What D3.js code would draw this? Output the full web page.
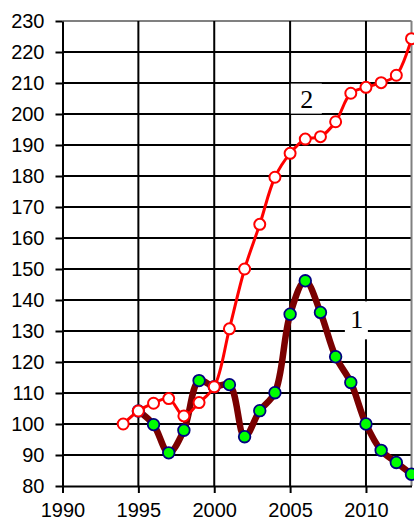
<!DOCTYPE html>
<html>
<head>
<meta charset="utf-8">
<script src="https://cdn.jsdelivr.net/npm/d3@7"></script>
<style>
  html, body { margin: 0; padding: 0; background: #fff; }
  svg { display: block; }
  .tick text { font-family: "Liberation Sans", Arial, sans-serif; font-size: 20px; fill: #000; }
</style>
</head>
<body>
<svg id="chart" width="414" height="520"></svg>
<script>
// Years and index values for the two series
const years1 = [1995, 1996, 1997, 1998, 1999, 2000, 2001, 2002, 2003, 2004, 2005, 2006, 2007, 2008, 2009, 2010, 2011, 2012, 2013];
const series1 = [104.2, 99.8, 90.7, 98, 114, 112, 112.7, 95.9, 104.3, 110.1, 135.4, 146.2, 136, 121.7, 113.4, 100, 91.5, 87.6, 83.8];

const years2 = [1994, 1995, 1996, 1997, 1998, 1999, 2000, 2001, 2002, 2003, 2004, 2005, 2006, 2007, 2008, 2009, 2010, 2011, 2012, 2013];
const series2 = [100, 104.2, 106.7, 108.2, 102.6, 106.9, 112, 130.7, 150, 164.4, 179.6, 187.3, 191.9, 192.7, 197.5, 206.7, 208.6, 210.1, 212.5, 224.3];

const yTicks = d3.range(80, 231, 10);
const xTicks = [1990, 1995, 2000, 2005, 2010];

// Series labels placed in data coordinates
const labels = [
  { text: "2", year: 2006.1, value: 204.8 },
  { text: "1", year: 2009.4, value: 133.6 }
];

const svg = d3.select("#chart");
const plotLeft = 62.5, plotRight = 411.5, plotTop = 21, plotBottom = 486;

const x = d3.scaleLinear().domain([1990, 2013]).range([plotLeft, plotRight]);
const y = d3.scaleLinear().domain([80, 230]).range([plotBottom, plotTop]);

// Grid
const grid = svg.append("g");
grid.selectAll("line.h").data(yTicks.filter(v => v > 80)).join("line")
  .attr("x1", plotLeft).attr("x2", plotRight)
  .attr("y1", d => y(d)).attr("y2", d => y(d))
  .attr("stroke", d => d === 230 ? "#808080" : "#000")
  .attr("stroke-width", 2);
grid.selectAll("line.v").data(xTicks.filter(v => v > 1990).concat([2013])).join("line")
  .attr("y1", plotTop).attr("y2", plotBottom)
  .attr("x1", d => x(d)).attr("x2", d => x(d))
  .attr("stroke", d => d === 2013 ? "#808080" : "#000")
  .attr("stroke-width", 2);

// Label backgrounds
const lab = svg.append("g");
labels.forEach(l => {
  const cx = x(l.year), cy = y(l.value);
  lab.append("rect")
    .attr("x", cx - (l.text === "2" ? 16 : 12))
    .attr("y", cy - (l.text === "2" ? 15.5 : 18.5))
    .attr("width", l.text === "2" ? 31 : 23)
    .attr("height", l.text === "2" ? 30 : 38)
    .attr("fill", "#fff");
  lab.append("text")
    .attr("x", cx).attr("y", cy)
    .attr("text-anchor", "middle")
    .attr("dominant-baseline", "central")
    .attr("font-family", "'Liberation Serif', 'Times New Roman', serif")
    .attr("font-size", 26)
    .text(l.text);
});

// Axes
const yAxis = svg.append("g")
  .attr("transform", `translate(${plotLeft},0)`)
  .call(d3.axisLeft(y).tickValues(yTicks).tickSize(7).tickPadding(11).tickSizeOuter(0));
const xAxis = svg.append("g")
  .attr("transform", `translate(0,${plotBottom})`)
  .call(d3.axisBottom(x).tickValues(xTicks).tickFormat(d3.format("d")).tickSize(7).tickPadding(10).tickSizeOuter(0));
[yAxis, xAxis].forEach(a => {
  a.select(".domain").attr("stroke", "#000").attr("stroke-width", 2);
  a.selectAll(".tick line").attr("stroke", "#000").attr("stroke-width", 2);
});

const curve = d3.curveCatmullRom.alpha(0.5);

// Series 1: thick maroon smoothed line with green markers
const d1 = years1.map((yr, i) => [yr, series1[i]]);
svg.append("path")
  .datum(d1)
  .attr("fill", "none")
  .attr("stroke", "#7a0000")
  .attr("stroke-width", 6.5)
  .attr("stroke-linejoin", "round")
  .attr("d", d3.line().x(d => x(d[0])).y(d => y(d[1])).curve(curve));
svg.append("g").selectAll("circle").data(d1).join("circle")
  .attr("cx", d => x(d[0])).attr("cy", d => y(d[1])).attr("r", 5.8)
  .attr("fill", "#00ff00").attr("stroke", "#000080").attr("stroke-width", 1.8);

// Series 2: red line with open circles
const d2 = years2.map((yr, i) => [yr, series2[i]]);
svg.append("path")
  .datum(d2)
  .attr("fill", "none")
  .attr("stroke", "#ff0000")
  .attr("stroke-width", 3)
  .attr("stroke-linejoin", "round")
  .attr("d", d3.line().x(d => x(d[0])).y(d => y(d[1])).curve(curve));
svg.append("g").selectAll("circle").data(d2).join("circle")
  .attr("cx", d => x(d[0])).attr("cy", d => y(d[1])).attr("r", 5.5)
  .attr("fill", "#fff").attr("stroke", "#ff0000").attr("stroke-width", 2);
</script>
</body>
</html>
